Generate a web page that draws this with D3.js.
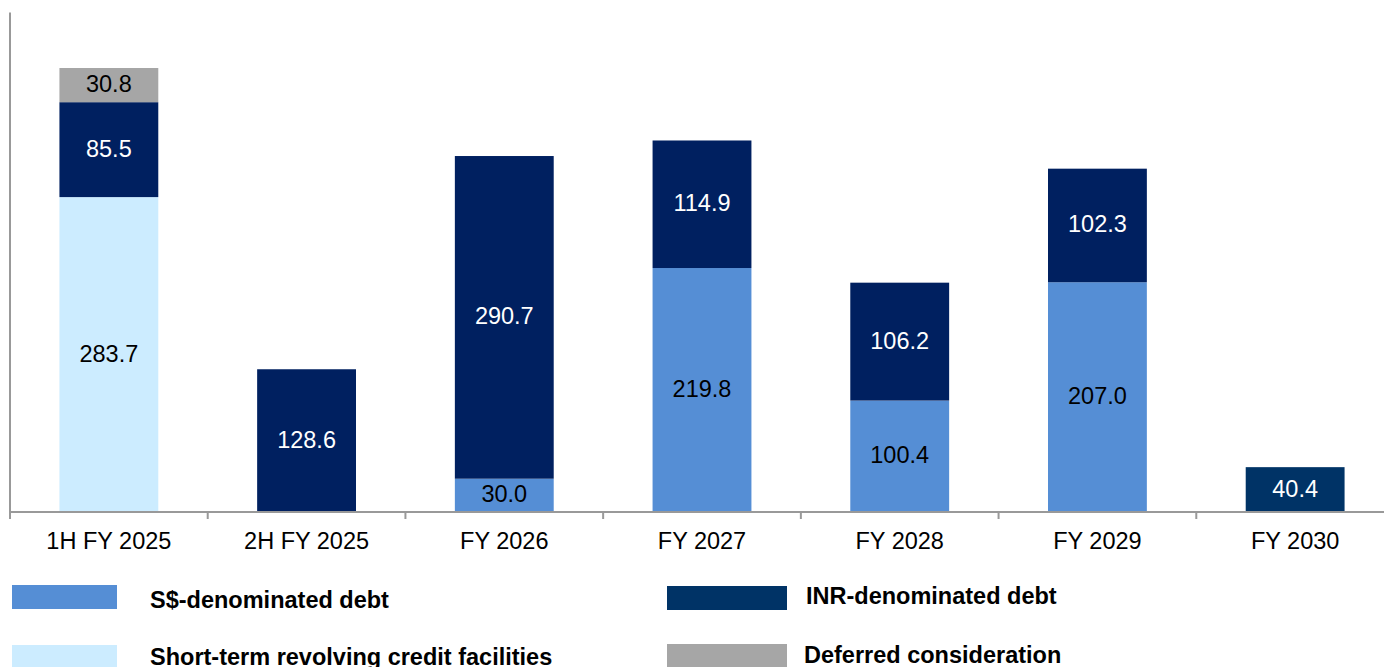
<!DOCTYPE html>
<html>
<head>
<meta charset="utf-8">
<script src="https://cdn.jsdelivr.net/npm/d3@7"></script>
<style>
    body { margin: 0; background: #fff; }
    text { font-family: Arial, "Liberation Sans", sans-serif; }
</style>
</head>
<body>
<svg id="chart" width="1384" height="667"></svg>
<script>
"use strict";

// data (S$ million)
var categories = ["1H FY 2025", "2H FY 2025", "FY 2026", "FY 2027", "FY 2028", "FY 2029", "FY 2030"];
var shortTerm = [283.7, 0, 0, 0, 0, 0, 0];
var sgdDebt = [0, 0, 30.0, 219.8, 100.4, 207.0, 0];
var inrDebt = [85.5, 128.6, 290.7, 114.9, 106.2, 102.3, 40.4];
var deferred = [30.8, 0, 0, 0, 0, 0, 0];

var legendNames = ["S$-denominated debt", "INR-denominated debt",
    "Short-term revolving credit facilities", "Deferred consideration"];

var series = [
    { key: "short", values: shortTerm, color: "#CCECFF", text: "#000" },
    { key: "sgd", values: sgdDebt, color: "#558ED5", text: "#000" },
    { key: "inr", values: inrDebt, color: "#002060", text: "#fff" },
    { key: "def", values: deferred, color: "#A6A6A6", text: "#000" }
];

var rows = categories.map(function (c, i) {
    var r = { cat: c };
    series.forEach(function (s) { r[s.key] = s.values[i]; });
    return r;
});

var svg = d3.select("#chart");
// the plot runs a little past the right edge of the picture
var plotLeft = 10, plotRight = 1394, plotTop = 12.5, plotBottom = 512;

var x = d3.scaleBand().domain(categories).range([plotLeft, plotRight]).paddingInner(0.5).paddingOuter(0.25);
var y = d3.scaleLinear().domain([0, 450]).range([plotBottom, plotTop]);

var stack = d3.stack().keys(series.map(function (s) { return s.key; }));
var stacked = stack(rows);

function fillFor(s, d) {
    // the last INR bar is drawn in a lighter navy in the original
    if (s.key === "inr" && d.data.cat === "FY 2030") return "#003366";
    return s.color;
}

stacked.forEach(function (layer, li) {
    var s = series[li];
    var g = svg.append("g").attr("class", "layer-" + s.key);
    var segs = layer.filter(function (d) { return d[1] - d[0] > 0; });
    g.selectAll("rect").data(segs).enter().append("rect")
        .attr("x", function (d) { return x(d.data.cat); })
        .attr("width", x.bandwidth())
        .attr("y", function (d) { return y(d[1]); })
        .attr("height", function (d) { return y(d[0]) - y(d[1]); })
        .attr("fill", function (d) { return fillFor(s, d); });
    g.selectAll("text").data(segs).enter().append("text")
        .attr("x", function (d) { return x(d.data.cat) + x.bandwidth() / 2; })
        .attr("y", function (d) { return (y(d[0]) + y(d[1])) / 2 - 1; })
        .attr("text-anchor", "middle")
        .attr("dominant-baseline", "central")
        .attr("font-size", 23.5)
        .attr("fill", s.text)
        .text(function (d) { return (d[1] - d[0]).toFixed(1); });
});

// axes
var bounds = d3.range(categories.length + 1).map(function (i) {
    return plotLeft + i * (plotRight - plotLeft) / categories.length;
});
svg.append("line")
    .attr("x1", plotLeft).attr("x2", plotLeft)
    .attr("y1", plotTop).attr("y2", plotBottom)
    .attr("stroke", "#999").attr("stroke-width", 2);
svg.append("line")
    .attr("x1", plotLeft).attr("x2", plotRight)
    .attr("y1", plotBottom).attr("y2", plotBottom)
    .attr("stroke", "#999").attr("stroke-width", 2);
svg.append("g").selectAll("line").data(bounds).enter().append("line")
    .attr("x1", function (d) { return d; }).attr("x2", function (d) { return d; })
    .attr("y1", plotBottom).attr("y2", plotBottom + 7)
    .attr("stroke", "#999").attr("stroke-width", 2);
svg.append("g").selectAll("text").data(categories).enter().append("text")
    .attr("x", function (d) { return x(d) + x.bandwidth() / 2; })
    .attr("y", 549)
    .attr("text-anchor", "middle")
    .attr("font-size", 23.5)
    .attr("fill", "#000")
    .text(function (d) { return d; });

// legend
var legendColors = ["#558ED5", "#003366", "#CCECFF", "#A6A6A6"];
var legendPos = [
    { sx: 12, sy: 585, tx: 150, ty: 608, sw: 105 },
    { sx: 667, sy: 586, tx: 806, ty: 604, sw: 120 },
    { sx: 12, sy: 645, tx: 150, ty: 665, sw: 105 },
    { sx: 667, sy: 644, tx: 804, ty: 663, sw: 120 }
];
var lg = svg.append("g").attr("class", "legend");
legendNames.forEach(function (name, i) {
    var p = legendPos[i];
    lg.append("rect").attr("x", p.sx).attr("y", p.sy)
        .attr("width", p.sw).attr("height", 24).attr("fill", legendColors[i]);
    lg.append("text").attr("x", p.tx).attr("y", p.ty)
        .attr("font-size", 23.5).attr("font-weight", "bold").attr("fill", "#000")
        .text(name);
});
</script>
</body>
</html>
